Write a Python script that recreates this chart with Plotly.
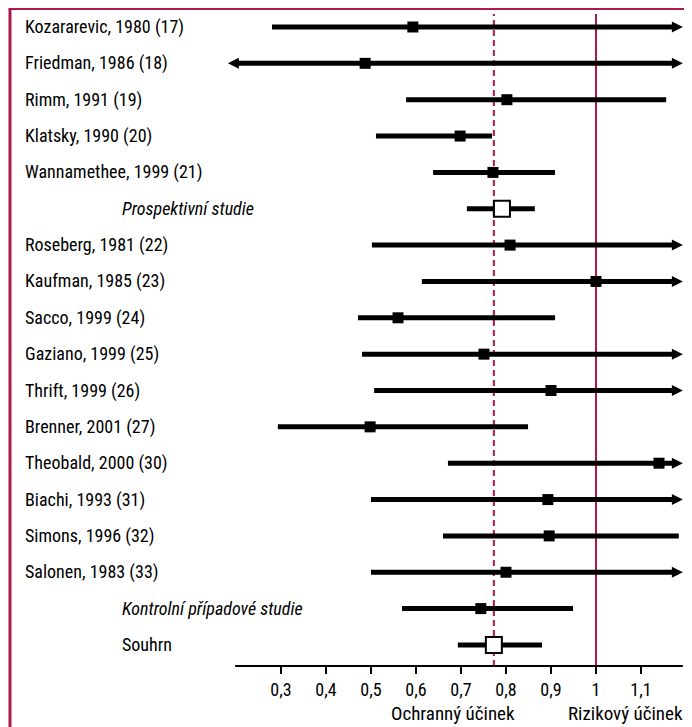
import plotly.graph_objects as go

# ---- data ----
labels = ["Kozararevic, 1980 (17)", "Friedman, 1986 (18)", "Rimm, 1991 (19)",
          "Klatsky, 1990 (20)", "Wannamethee, 1999 (21)", "Prospektivní studie",
          "Roseberg, 1981 (22)", "Kaufman, 1985 (23)", "Sacco, 1999 (24)",
          "Gaziano, 1999 (25)", "Thrift, 1999 (26)", "Brenner, 2001 (27)",
          "Theobald, 2000 (30)", "Biachi, 1993 (31)", "Simons, 1996 (32)",
          "Salonen, 1983 (33)", "Kontrolní případové studie", "Souhrn"]
kinds = ["study"] * 5 + ["subtotal"] + ["study"] * 10 + ["subtotal", "total"]
est = [0.593, 0.487, 0.802, 0.698, 0.771, 0.791, 0.809, 1.0, 0.56, 0.751,
       0.90, 0.498, 1.14, 0.893, 0.896, 0.80, 0.744, 0.773]
# None = interval extends beyond the drawn axis (shown as an arrow)
lo = [0.28, None, 0.578, 0.511, 0.638, 0.713, 0.502, 0.613, 0.471, 0.48,
      0.507, 0.293, 0.671, 0.50, 0.66, 0.50, 0.569, 0.693]
hi = [None, None, 1.156, 0.769, 0.909, 0.864, None, None, 0.909, None,
      None, 0.849, None, None, 1.184, None, 0.949, 0.88]
tick_vals = [0.3, 0.4, 0.5, 0.6, 0.7, 0.8, 0.9, 1.0, 1.1]
tick_text = ["0,3", "0,4", "0,5", "0,6", "0,7", "0,8", "0,9", "1", "1,1"]
null_value = 1.0
captions = ["Ochranný účinek", "Rizikový účinek"]

# ---- style ----
FONT = "Liberation Sans Narrow, Arial Narrow, Roboto Condensed, DejaVu Sans Condensed, sans-serif"
RED = "#AE1750"
AXIS_MIN, AXIS_MAX = 0.198, 1.193
LEFT_TIP = 0.182
HEAD = 0.022
open_marker = [False] * 5 + [True] + [False] * 11 + [True]

W, H = 684, 719          # page body has an 8px margin
X0 = 138                 # pixel of value 0 inside the figure
PX = 450                 # pixels per unit
PLOT_H = 658
ROW0, ROW_STEP = 19, 36.35

n = len(labels)

seg_x, seg_y = [], []
ar_x, ar_y, al_x, al_y = [], [], [], []
for i in range(n):
    a = lo[i] if lo[i] is not None else LEFT_TIP + HEAD
    b = hi[i] if hi[i] is not None else AXIS_MAX - HEAD
    seg_x += [a, b, None]
    seg_y += [i, i, None]
    if hi[i] is None:
        ar_x.append(AXIS_MAX); ar_y.append(i)
    if lo[i] is None:
        al_x.append(LEFT_TIP); al_y.append(i)

fig = go.Figure()
fig.add_trace(go.Scatter(x=seg_x, y=seg_y, mode="lines",
                         line=dict(color="black", width=5), hoverinfo="skip"))
fig.add_trace(go.Scatter(x=ar_x, y=ar_y, mode="markers",
                         marker=dict(symbol="arrow-right", size=11, color="black",
                                     line=dict(width=0)), hoverinfo="skip"))
fig.add_trace(go.Scatter(x=al_x, y=al_y, mode="markers",
                         marker=dict(symbol="arrow-left", size=11, color="black",
                                     line=dict(width=0)), hoverinfo="skip"))
st_x = [est[i] for i in range(n) if not open_marker[i]]
st_y = [i for i in range(n) if not open_marker[i]]
fig.add_trace(go.Scatter(x=st_x, y=st_y, mode="markers",
                         marker=dict(symbol="square", size=11, color="black",
                                     line=dict(width=0))))
sm_x = [est[i] for i in range(n) if open_marker[i]]
sm_y = [i for i in range(n) if open_marker[i]]
fig.add_trace(go.Scatter(x=sm_x, y=sm_y, mode="markers",
                         marker=dict(symbol="square", size=16, color="white",
                                     line=dict(width=2, color="black"))))

top_ref = (PLOT_H - 6) / PLOT_H
shapes = []
shapes.append(dict(type="line", xref="x", yref="paper", x0=est[-1], x1=est[-1],
                   y0=0, y1=top_ref, line=dict(color=RED, width=2, dash="6px,4px"),
                   layer="below"))
shapes.append(dict(type="line", xref="x", yref="paper", x0=null_value, x1=null_value,
                   y0=0, y1=top_ref, line=dict(color=RED, width=2), layer="below"))
shapes.append(dict(type="line", xref="x", yref="paper", x0=AXIS_MIN, x1=AXIS_MAX,
                   y0=0, y1=0, line=dict(color="black", width=2)))
frame_top = (PLOT_H - 1) / PLOT_H
shapes.append(dict(type="line", xref="paper", yref="paper", x0=2 / W, x1=2 / W,
                   y0=-0.2, y1=frame_top, line=dict(color=RED, width=3)))
shapes.append(dict(type="line", xref="paper", yref="paper", x0=0.5 / W, x1=1.02,
                   y0=frame_top, y1=frame_top, line=dict(color=RED, width=2)))

annotations = []
for i in range(n):
    if kinds[i] == "study":
        xpos, txt = 15 / W, labels[i]
    else:
        xpos = 112 / W
        txt = "<i>" + labels[i] + "</i>" if kinds[i] == "subtotal" else labels[i]
    annotations.append(dict(xref="paper", yref="y", x=xpos, y=i, text=txt,
                            showarrow=False, xanchor="left", yanchor="middle",
                            font=dict(family=FONT, size=18, color="black")))
cap_x = [(453 - 146) / PX, (625 - 146) / PX]
for t, cx in zip(captions, cap_x):
    annotations.append(dict(xref="x", yref="paper", x=cx, y=0, yshift=-47,
                            text=t, showarrow=False, xanchor="center",
                            yanchor="middle", font=dict(family=FONT, size=19, color="black")))

fig.update_layout(
    width=W, height=H,
    margin=dict(l=0, r=0, t=0, b=H - PLOT_H, pad=0),
    paper_bgcolor="white", plot_bgcolor="white",
    showlegend=False,
    shapes=shapes, annotations=annotations,
    xaxis=dict(range=[-X0 / PX, (W - X0) / PX], showgrid=False, zeroline=False,
               showline=False, tickvals=tick_vals, ticktext=tick_text,
               ticks="outside", ticklen=7, tickwidth=2, tickcolor="black",
               tickfont=dict(family=FONT, size=18, color="black"), fixedrange=True),
    yaxis=dict(range=[(PLOT_H - ROW0) / ROW_STEP, -ROW0 / ROW_STEP], showgrid=False,
               zeroline=False, showline=False, showticklabels=False, ticks="",
               fixedrange=True),
)

fig.write_html("out.html")
